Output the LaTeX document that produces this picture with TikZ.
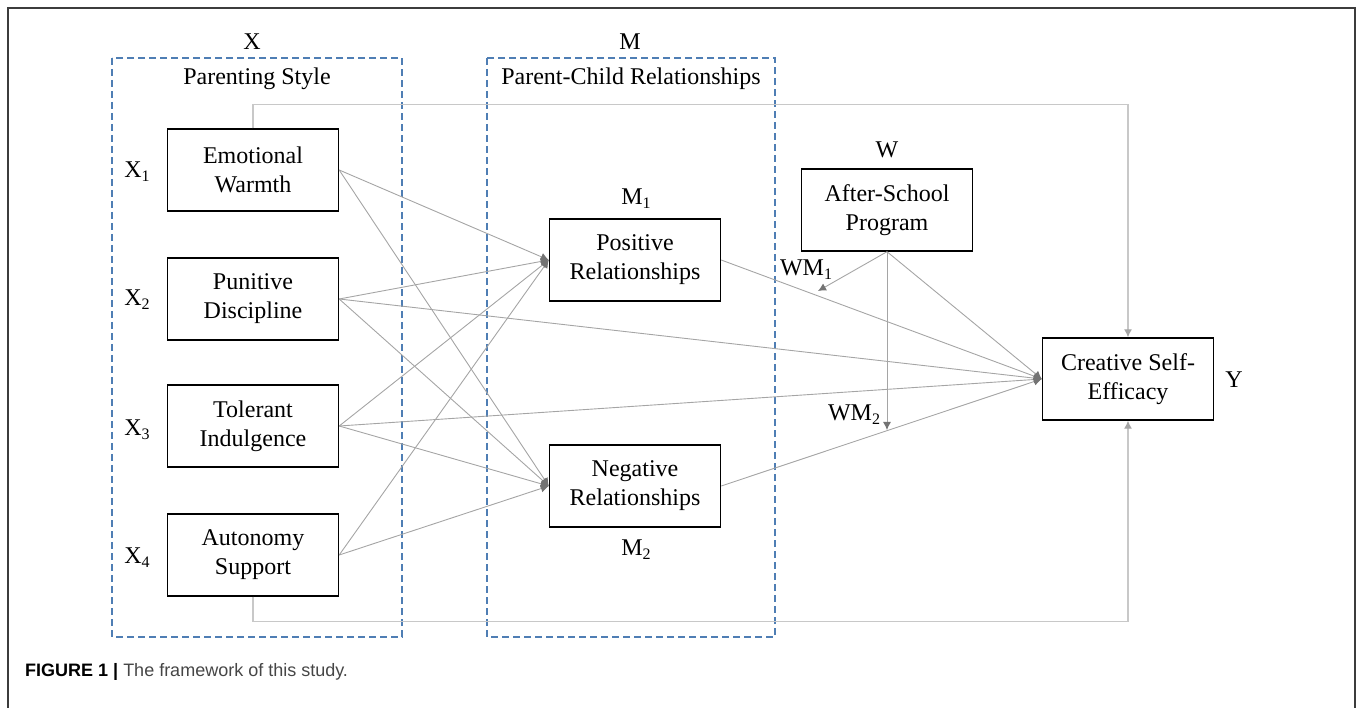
\documentclass[tikz,border=0pt]{standalone}
\usepackage{fontspec}
\setmainfont{Liberation Serif}
\newfontfamily\capfont{Liberation Sans}
\usetikzlibrary{arrows.meta}

\definecolor{dashblue}{RGB}{79,126,180}
\definecolor{linegray}{RGB}{165,165,165}
\definecolor{palegray}{RGB}{200,200,200}
\definecolor{tipgray}{RGB}{115,115,115}
\definecolor{framegray}{RGB}{60,60,60}
\definecolor{captext}{RGB}{70,70,70}

\newcommand{\lowidx}[1]{\raisebox{-0.35ex}{\fontsize{16}{16}\selectfont #1}}

\begin{document}
\begin{tikzpicture}[x=1pt,y=-1pt,
	box/.style={draw=black,line width=1.4pt,minimum width=171pt,minimum height=82pt,
		inner sep=0pt,align=center,font=\fontsize{24}{29}\selectfont},
	lab/.style={font=\fontsize{24}{29}\selectfont,inner sep=0pt},
	dashbox/.style={draw=dashblue,line width=1.2pt,dash pattern=on 7pt off 4pt},
	conn/.style={draw=linegray,line width=0.9pt,-{Latex[length=8pt,width=8pt,color=tipgray]}},
	link/.style={draw=palegray,line width=1.1pt,-{Latex[length=8pt,width=8pt,color=linegray]}}]
	\useasboundingbox (0,0) rectangle (1358,708);
	% frame
	\draw[framegray,line width=1.5pt] (8,715) -- (8,8) -- (1355,8) -- (1355,715);
	% dashed groups
	\draw[dashbox] (112,58) rectangle (402,637);
	\draw[dashbox] (487,58) rectangle (775,637);
	\node[lab] (xname) at (252,42) {X};
	\node[lab] (mname) at (630,42) {M};
	\node[lab] (xtitle) at (257,79) {Parenting Style};
	\node[lab] (mtitle) at (631,79) {Parent-Child Relationships};
	% boxes
	\node[box] (ew) at (253,170) {Emotional\\Warmth};
	\node[box] (pd) at (253,299) {Punitive\\Discipline};
	\node[box] (ti) at (253,426) {Tolerant\\Indulgence};
	\node[box] (as) at (253,555) {Autonomy\\Support};
	\node[box] (pos) at (635,260) {Positive\\Relationships};
	\node[box] (neg) at (635,486) {Negative\\Relationships};
	\node[box] (asp) at (887,210) {After-School\\Program};
	\node[box] (cse) at (1128,379) {Creative Self-\\Efficacy};
	% labels
	\node[lab] (x1) at (137,172) {X\lowidx{1}};
	\node[lab] (x2) at (137,300) {X\lowidx{2}};
	\node[lab] (x3) at (137,430) {X\lowidx{3}};
	\node[lab] (x4) at (137,558) {X\lowidx{4}};
	\node[lab] (m1) at (636,199) {M\lowidx{1}};
	\node[lab] (m2) at (636,550) {M\lowidx{2}};
	\node[lab] (w) at (887,150) {W};
	\node[lab] (y) at (1234,380) {Y};
	\node[lab] (wm1lab) at (806,270) {WM\lowidx{1}};
	\node[lab] (wm2lab) at (854,415) {WM\lowidx{2}};
	\coordinate (wm1) at (818,291);
	\coordinate (wm2) at (887,430);
	% paths
	\foreach \src in {ew,pd,ti,as}{
		\draw[conn] (\src.east) -- (pos.west);
		\draw[conn] (\src.east) -- (neg.west);
	}
	\draw[conn] (pd.east) -- (cse.west);
	\draw[conn] (ti.east) -- (cse.west);
	\draw[conn] (pos.east) -- (cse.west);
	\draw[conn] (neg.east) -- (cse.west);
	\draw[conn] (asp.south) -- (cse.west);
	\draw[conn] (asp.south) -- (wm1);
	\draw[conn] (asp.south) -- (wm2);
	\draw[link] (ew.north) -- ++(0,-24) -| (cse.north);
	\draw[link] (as.south) -- ++(0,25) -| (cse.south);
	% caption
	\node[anchor=west,inner sep=0pt,font=\capfont\fontsize{18}{22}\selectfont] (cap) at (25,672)
		{\textbf{FIGURE 1 |} \textcolor{captext}{The framework of this study.}};
\end{tikzpicture}
\end{document}
